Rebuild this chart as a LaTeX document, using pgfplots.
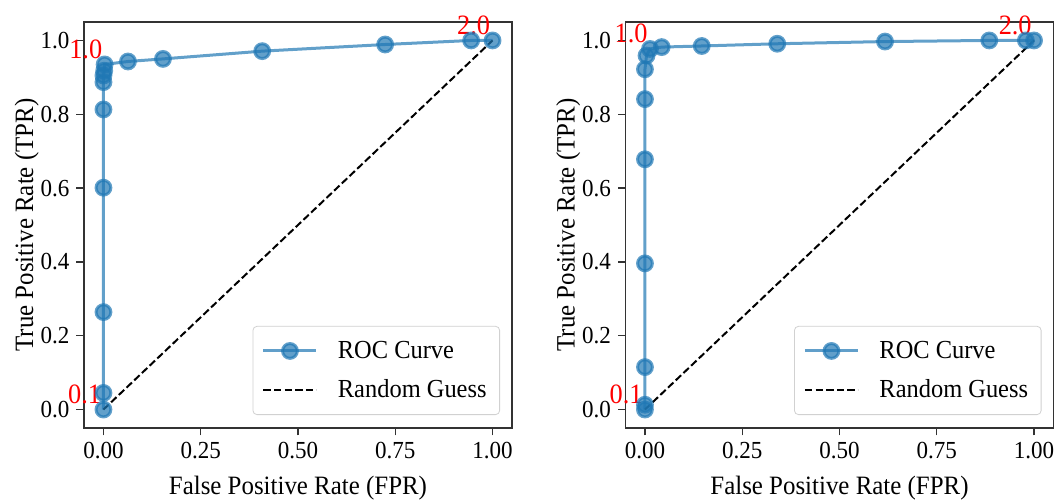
\documentclass[border=0pt]{standalone}
\usepackage{fontspec}
\setmainfont{Liberation Serif}[FakeStretch=0.94]
\usepackage{pgfplots}
\pgfplotsset{compat=1.18}

\definecolor{rocblue}{RGB}{31,119,180}

\tikzset{
  thr/.style={red, anchor=base east, inner sep=0pt, xshift=-1pt, yshift=3pt,
    font=\fontsize{14}{16}\selectfont},
}

% shared look of both panels (1px of the reference = 0.5pt)
\pgfplotsset{
  rocpanel/.style={
    scale only axis, clip=false,
    width=214pt, height=203pt,
    xmin=-0.05, xmax=1.05, ymin=-0.05, ymax=1.05,
    xtick={0,0.25,0.5,0.75,1}, ytick={0,0.2,...,1},
    axis line style={black!80, line width=0.7pt},
    tick style={black!80, line width=0.7pt},
    tick align=outside, major tick length=3.75pt,
    xtick pos=bottom, ytick pos=left,
    /pgf/number format/assume math mode=true,
    ticklabel style={font=\fontsize{12.25}{14}\selectfont},
    xticklabel style={/pgf/number format/.cd, fixed, fixed zerofill, precision=2},
    yticklabel style={/pgf/number format/.cd, fixed, fixed zerofill, precision=1},
    label style={font=\fontsize{13.25}{15}\selectfont},
    xlabel={False Positive Rate (FPR)},
    ylabel={True Positive Rate (TPR)},
    xlabel style={at={(axis description cs:0.5,-0.165)}, anchor=base},
    ylabel style={at={(axis description cs:-0.119,0.5)}, anchor=base},
    legend cell align=left,
    legend image code/.code={
      \draw[mark repeat=2, mark phase=2] plot coordinates {(0pt,0pt) (13.25pt,0pt) (26.5pt,0pt)};
    },
    legend style={
      at={(0.972,0.032)}, anchor=south east,
      draw=black!18, rounded corners=2pt, fill=white,
      font=\fontsize{13}{15}\selectfont,
      inner xsep=4.5pt, inner ysep=5.25pt, row sep=5pt,
      /tikz/every odd column/.append style={column sep=8pt},
    },
  },
  roc/.style={color=rocblue, opacity=0.7, line width=1.5pt, mark=*,
    mark size=3.7pt, mark options={solid, fill=rocblue, draw=none}},
  guess/.style={black, line width=1pt, dash pattern=on 3.7pt off 1.6pt},
}

\begin{document}
\begin{tikzpicture}
\path[use as bounding box] (-42pt,-36.5pt) rectangle (487.5pt,214pt);

% left panel
\begin{axis}[rocpanel]
\addplot[roc] coordinates {
  (0,0) (0,0.045) (0,0.264) (0,0.601) (0,0.813) (0,0.887) (0,0.905)
  (0.002,0.918) (0.003,0.935) (0.063,0.943) (0.153,0.950) (0.408,0.971)
  (0.724,0.989) (0.945,1.0) (1,1)
};
\addlegendentry{ROC Curve}
\addplot[guess] coordinates {(0,0) (1,1)};
\addlegendentry{Random Guess}
\node[thr] at (axis cs:0,0) {0.1};
\node[thr] at (axis cs:0.003,0.935) {1.0};
\node[thr] at (axis cs:1,1) {2.0};
\end{axis}

% right panel
\begin{axis}[rocpanel, xshift=270.75pt]
\addplot[roc] coordinates {
  (0,0) (0,0.013) (0,0.115) (0,0.396) (0,0.678) (0,0.841) (0,0.922)
  (0.004,0.959) (0.013,0.977) (0.043,0.982) (0.146,0.985) (0.34,0.991)
  (0.617,0.997) (0.885,1.0) (0.979,1.0) (1,1)
};
\addlegendentry{ROC Curve}
\addplot[guess] coordinates {(0,0) (1,1)};
\addlegendentry{Random Guess}
\node[thr] at (axis cs:0,0) {0.1};
\node[thr] at (axis cs:0.013,0.977) {1.0};
\node[thr] at (axis cs:1,1) {2.0};
\end{axis}
\end{tikzpicture}
\end{document}
